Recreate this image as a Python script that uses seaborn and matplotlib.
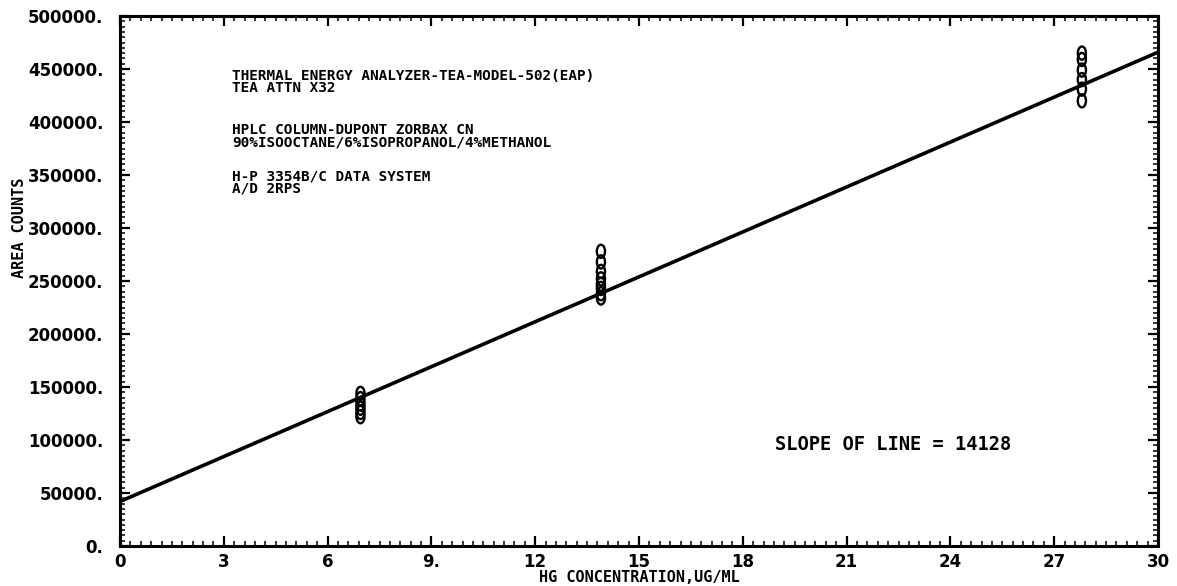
import numpy as np
import pandas as pd
import matplotlib
matplotlib.use("Agg")
import matplotlib.pyplot as plt
import seaborn as sns
from matplotlib.path import Path
from matplotlib.transforms import Affine2D
from matplotlib.ticker import MultipleLocator, FixedLocator

# ---- data ----
conc_low = [6.95] * 6
area_low = [144000, 139000, 134000, 130000, 126000, 122000]
conc_mid = [13.9] * 8
area_mid = [278000, 268000, 259000, 252000, 247000, 243000, 238000, 234000]
conc_high = [27.8] * 6
area_high = [465000, 459000, 449000, 440000, 431000, 420000]

slope = 14128
intercept = 42000
line_x = [0, 30]

x_ticks = [0, 3, 6, 9, 12, 15, 18, 21, 24, 27, 30]
x_tick_labels = ["0", "3", "6", "9.", "12", "15", "18", "21", "24", "27", "30"]
y_ticks = [0, 50000, 100000, 150000, 200000, 250000, 300000, 350000, 400000, 450000, 500000]
y_tick_labels = ["0.", "50000.", "100000.", "150000.", "200000.", "250000.",
                 "300000.", "350000.", "400000.", "450000.", "500000."]

notes = [
    "THERMAL ENERGY ANALYZER-TEA-MODEL-502(EAP)",
    "TEA ATTN X32",
    "HPLC COLUMN-DUPONT ZORBAX CN",
    "90%ISOOCTANE/6%ISOPROPANOL/4%METHANOL",
    "H-P 3354B/C DATA SYSTEM",
    "A/D 2RPS",
]
slope_text = "SLOPE OF LINE = 14128"

# ---- build tables ----
points = pd.DataFrame({
    "conc": conc_low + conc_mid + conc_high,
    "area": area_low + area_mid + area_high,
})
fit = pd.DataFrame({"conc": line_x,
                    "area": [intercept + slope * v for v in line_x]})

sns.set_theme(style="ticks")
plt.rcParams["font.family"] = ["DejaVu Sans Mono", "DejaVu Sans"]
plt.rcParams["font.weight"] = "bold"
plt.rcParams["text.color"] = "black"
plt.rcParams["axes.labelcolor"] = "black"

fig = plt.figure(figsize=(11.77, 5.86), dpi=100)
ax = fig.add_axes([120 / 1177, 1 - 546 / 586, (1158 - 120) / 1177, (546 - 16) / 586])

oval = Path.unit_circle().transformed(Affine2D().scale(0.62, 1.0))

sns.lineplot(data=fit, x="conc", y="area", ax=ax, color="black", linewidth=2.6)
sns.scatterplot(data=points, x="conc", y="area", ax=ax, marker=oval, s=90,
                facecolor="none", edgecolor="black", linewidth=1.7, zorder=3)

ax.set_xlim(0, 30)
ax.set_ylim(0, 500000)
ax.xaxis.set_major_locator(FixedLocator(x_ticks))
ax.set_xticklabels(x_tick_labels)
ax.yaxis.set_major_locator(FixedLocator(y_ticks))
ax.set_yticklabels(y_tick_labels)
ax.xaxis.set_minor_locator(MultipleLocator(0.3))
ax.yaxis.set_minor_locator(MultipleLocator(5000))

ax.tick_params(axis="both", which="major", direction="in", length=7, width=1.6,
               top=True, right=True, colors="black")
ax.tick_params(axis="both", which="minor", direction="in", length=3.5, width=1.3,
               top=True, right=True)
ax.tick_params(axis="y", which="major", pad=12)
ax.tick_params(axis="x", which="major", pad=5)
for lab in ax.get_xticklabels() + ax.get_yticklabels():
    lab.set_fontweight("bold")
    lab.set_family("DejaVu Sans")
    lab.set_fontsize(12)

for sp in ax.spines.values():
    sp.set_linewidth(2.2)
    sp.set_color("black")

ax.set_xlabel("")
ax.set_ylabel("AREA COUNTS", fontsize=11, fontweight="bold")
ax.yaxis.set_label_coords(-0.09, 0.6)
fig.text(639 / 1177, 1 - 578 / 586, "HG CONCENTRATION,UG/ML", fontsize=11,
         fontweight="bold", ha="center", va="center")

note_y = [76, 88, 130, 142, 176, 188]
for txt, yy in zip(notes, note_y):
    fig.text(232 / 1177, 1 - yy / 586, txt, fontsize=10.4, fontweight="bold",
             va="center", ha="left")
fig.text(775 / 1177, 1 - 445 / 586, slope_text, fontsize=13.5, fontweight="bold",
         family="DejaVu Sans Mono", va="center", ha="left")

fig.savefig("out.png", dpi=100, facecolor="white")
